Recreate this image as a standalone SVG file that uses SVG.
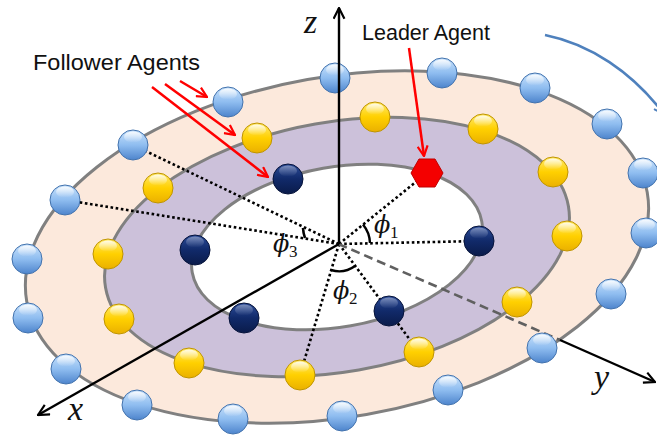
<svg xmlns="http://www.w3.org/2000/svg" xmlns:xlink="http://www.w3.org/1999/xlink" width="657" height="441" viewBox="0 0 657 441">
<style>
.ring{stroke:#808080;stroke-width:3}
.dot{fill:none;stroke:#000;stroke-width:2.6;stroke-dasharray:2.6 2.6}
.axis{fill:none;stroke:#000;stroke-width:2.4}
.red{fill:none;stroke:#ff0000;stroke-width:2.5}
.lbl{font-family:"Liberation Sans",Arial,sans-serif;font-size:22px;fill:#111}
.math{font-family:"Liberation Serif","DejaVu Serif",serif;font-style:italic;fill:#111}
.phi{font-family:"DejaVu Serif","Liberation Serif",serif;font-style:italic;font-size:24px;fill:#111}
.sub{font-family:"Liberation Serif","DejaVu Serif",serif;font-size:17px;fill:#111}
</style>
<defs>
<linearGradient id="gBlue" x1="0" y1="0" x2="0" y2="1">
<stop offset="0" stop-color="#c9e2fb"/><stop offset="0.5" stop-color="#8fbdf0"/><stop offset="1" stop-color="#4d84cc"/>
</linearGradient>
<linearGradient id="gYel" x1="0" y1="0" x2="0" y2="1">
<stop offset="0" stop-color="#ffea70"/><stop offset="0.5" stop-color="#ffd000"/><stop offset="1" stop-color="#eab000"/>
</linearGradient>
<linearGradient id="gDark" x1="0" y1="0" x2="0" y2="1">
<stop offset="0" stop-color="#2c4c98"/><stop offset="0.5" stop-color="#112a6a"/><stop offset="1" stop-color="#0a1b4a"/>
</linearGradient>
<linearGradient id="gHl" x1="0" y1="0" x2="0" y2="1">
<stop offset="0" stop-color="#fff" stop-opacity="0.85"/><stop offset="1" stop-color="#fff" stop-opacity="0"/>
</linearGradient>
<g id="ballBlue"><circle r="15" fill="url(#gBlue)" stroke="#4272ad" stroke-width="1"/><ellipse cy="-8" rx="9" ry="5.5" fill="url(#gHl)"/></g>
<g id="ballYel"><circle r="15" fill="url(#gYel)" stroke="#bf9400" stroke-width="1"/><ellipse cy="-8" rx="9" ry="5.5" fill="url(#gHl)"/></g>
<g id="ballDark"><circle r="15" fill="url(#gDark)" stroke="#06133a" stroke-width="1"/><ellipse cy="-8" rx="9" ry="5.5" fill="url(#gHl)" opacity="0.45"/></g>
<marker id="arRed" viewBox="0 0 12 12" refX="11" refY="6" markerWidth="12" markerHeight="12" markerUnits="userSpaceOnUse" orient="auto">
<path d="M1,1 L11,6 L1,11" fill="none" stroke="#ff0000" stroke-width="2.2"/>
</marker>
<marker id="arBlk" viewBox="0 0 12 12" refX="11" refY="6" markerWidth="13" markerHeight="13" markerUnits="userSpaceOnUse" orient="auto">
<path d="M1,1 L11,6 L1,11" fill="none" stroke="#000" stroke-width="2"/>
</marker>
<marker id="arBlue" viewBox="0 0 12 12" refX="11" refY="6" markerWidth="12" markerHeight="12" markerUnits="userSpaceOnUse" orient="auto">
<path d="M1,1 L11,6 L1,11" fill="none" stroke="#4f81bd" stroke-width="2"/>
</marker>
</defs>
<rect width="657" height="441" fill="#fff"/>
<g id="rings">
<ellipse class="ring" cx="337" cy="247" rx="315" ry="170" fill="#fce9dc" transform="rotate(-10 337 247)"/>
<ellipse class="ring" cx="337" cy="247" rx="235" ry="125" fill="#ccc1da" transform="rotate(-10 337 247)"/>
<ellipse class="ring" cx="337" cy="247" rx="147" ry="80" fill="#fff" transform="rotate(-10 337 247)"/>
</g>
<g id="connectors">
<line class="dot" x1="339" y1="244" x2="133" y2="145"/>
<line class="dot" x1="339" y1="244" x2="65" y2="200"/>
<line class="dot" x1="339" y1="244" x2="427" y2="173"/>
<line class="dot" x1="339" y1="244" x2="479" y2="241"/>
<line class="dot" x1="339" y1="244" x2="419" y2="352"/>
<line class="dot" x1="339" y1="244" x2="300" y2="375"/>
<path d="M338.5,244 L560,340" fill="none" stroke="#606060" stroke-width="2.6" stroke-dasharray="9 5"/>
<path class="axis" d="M560,340 L655,382" marker-end="url(#arBlk)"/>
<path class="axis" d="M339,244 L38,415" marker-end="url(#arBlk)"/>
<path d="M363,224.5 A31,31 0 0 1 370,243" fill="none" stroke="#000" stroke-width="2.4"/>
<path d="M355,266 A27,27 0 0 1 331,270" fill="none" stroke="#000" stroke-width="2.4"/>
<path d="M303,228 A35,35 0 0 0 305,238" fill="none" stroke="#000" stroke-width="2.6"/>
<path class="red" d="M180,81 L207,97" marker-end="url(#arRed)"/>
<path class="red" d="M165,84 L235,135" marker-end="url(#arRed)"/>
<path class="red" d="M152,87 L268,177" marker-end="url(#arRed)"/>
<path class="red" d="M409,48 L424,156" marker-end="url(#arRed)"/>
<path d="M545,35 C590,44 632,72 664,114" fill="none" stroke="#4f81bd" stroke-width="2.6" marker-end="url(#arBlue)"/>
</g>
<g id="outer-agents">
<g id="o1"><use xlink:href="#ballBlue" x="228" y="102"/></g>
<g id="o2"><use xlink:href="#ballBlue" x="335" y="78"/></g>
<g id="o3"><use xlink:href="#ballBlue" x="442" y="73"/></g>
<g id="o4"><use xlink:href="#ballBlue" x="535" y="88"/></g>
<g id="o5"><use xlink:href="#ballBlue" x="607" y="124"/></g>
<g id="o6"><use xlink:href="#ballBlue" x="643" y="173"/></g>
<g id="o7"><use xlink:href="#ballBlue" x="646" y="233"/></g>
<g id="o8"><use xlink:href="#ballBlue" x="611" y="294"/></g>
<g id="o9"><use xlink:href="#ballBlue" x="542" y="348"/></g>
<g id="o10"><use xlink:href="#ballBlue" x="448" y="390"/></g>
<g id="o11"><use xlink:href="#ballBlue" x="342" y="416"/></g>
<g id="o12"><use xlink:href="#ballBlue" x="233" y="419"/></g>
<g id="o13"><use xlink:href="#ballBlue" x="137" y="405"/></g>
<g id="o14"><use xlink:href="#ballBlue" x="66" y="369"/></g>
<g id="o15"><use xlink:href="#ballBlue" x="28" y="318"/></g>
<g id="o16"><use xlink:href="#ballBlue" x="27" y="259"/></g>
<g id="o17"><use xlink:href="#ballBlue" x="65" y="200"/></g>
<g id="o18"><use xlink:href="#ballBlue" x="133" y="145"/></g>
</g>
<g id="middle-agents">
<g id="m1"><use xlink:href="#ballYel" x="257" y="138"/></g>
<g id="m2"><use xlink:href="#ballYel" x="375" y="117"/></g>
<g id="m3"><use xlink:href="#ballYel" x="483" y="129"/></g>
<g id="m4"><use xlink:href="#ballYel" x="553" y="172"/></g>
<g id="m5"><use xlink:href="#ballYel" x="567" y="236"/></g>
<g id="m6"><use xlink:href="#ballYel" x="517" y="302"/></g>
<g id="m7"><use xlink:href="#ballYel" x="419" y="352"/></g>
<g id="m8"><use xlink:href="#ballYel" x="300" y="375"/></g>
<g id="m9"><use xlink:href="#ballYel" x="189" y="363"/></g>
<g id="m10"><use xlink:href="#ballYel" x="119" y="319"/></g>
<g id="m11"><use xlink:href="#ballYel" x="108" y="254"/></g>
<g id="m12"><use xlink:href="#ballYel" x="158" y="188"/></g>
</g>
<g id="inner-agents">
<g id="i1"><use xlink:href="#ballDark" x="288" y="179"/></g>
<g id="i2"><use xlink:href="#ballDark" x="479" y="241"/></g>
<g id="i3"><use xlink:href="#ballDark" x="389" y="311"/></g>
<g id="i4"><use xlink:href="#ballDark" x="244" y="318"/></g>
<g id="i5"><use xlink:href="#ballDark" x="195" y="250"/></g>
</g>
<g id="leader">
<polygon points="411,173 419,159 435,159 443,173 435,187 419,187" fill="#f40000" stroke="#c00000" stroke-width="1"/>
</g>
<g id="z-axis">
<path class="axis" d="M339,244 L339,8" marker-end="url(#arBlk)"/>
</g>
<g id="labels">
<text class="lbl" x="33" y="70" textLength="167" lengthAdjust="spacingAndGlyphs">Follower Agents</text>
<text class="lbl" x="362" y="40" textLength="128" lengthAdjust="spacingAndGlyphs">Leader Agent</text>
<text class="math" x="304" y="33" font-size="34">z</text>
<text class="math" x="68" y="420" font-size="34">x</text>
<text class="math" x="594" y="388" font-size="34">y</text>
<text class="phi" x="374" y="233">ϕ</text><text class="sub" x="390" y="238">1</text>
<text class="phi" x="333" y="299">ϕ</text><text class="sub" x="349" y="304">2</text>
<text class="phi" x="273" y="252">ϕ</text><text class="sub" x="289" y="257">3</text>
</g>
</svg>
